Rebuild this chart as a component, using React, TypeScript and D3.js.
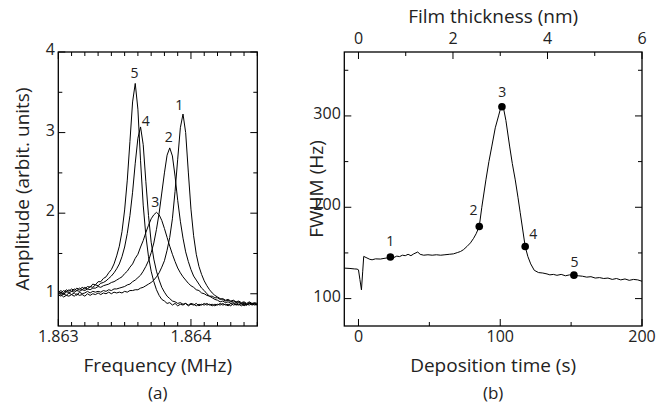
import React from 'react';
import * as d3 from 'd3';

// ---------- Panel (a) data ----------
const FREQ_BASE_MHZ = 1.863;
const freqOffsetHz = [
  0, 20, 40, 60, 80, 100, 120, 140, 160, 180,
  200, 220, 240, 260, 280, 300, 320, 340, 360, 380,
  400, 420, 440, 460, 480, 500, 520, 540, 560, 580,
  600, 620, 640, 660, 680, 700, 720, 740, 760, 780,
  800, 820, 840, 860, 880, 900, 920, 940, 960, 980,
  1000, 1020, 1040, 1060, 1080, 1100, 1120, 1140, 1160, 1180,
  1200, 1220, 1240, 1260, 1280, 1300, 1320, 1340, 1360, 1380,
  1400, 1420, 1440, 1460, 1480, 1500,
];
const amp1 = [
  0.97, 0.99, 0.96, 0.98, 0.97, 0.99, 0.97, 1.0, 0.98, 0.99,
  0.97, 1.0, 0.98, 1.0, 0.99, 1.01, 0.99, 1.01, 1.0, 1.02,
  1.0, 1.02, 1.01, 1.02, 1.01, 1.03, 1.02, 1.04, 1.04, 1.05,
  1.05, 1.07, 1.08, 1.1, 1.12, 1.14, 1.17, 1.21, 1.26, 1.33,
  1.41, 1.54, 1.7, 1.93, 2.27, 2.67, 3.06, 3.23, 3.0, 2.51,
  2.05, 1.72, 1.49, 1.34, 1.24, 1.16, 1.1, 1.05, 1.01, 0.98,
  0.96, 0.94, 0.93, 0.91, 0.92, 0.9, 0.91, 0.89, 0.9, 0.88,
  0.89, 0.87, 0.89, 0.87, 0.88, 0.87,
];
const amp2 = [
  0.99, 0.97, 1.0, 0.98, 1.01, 0.99, 1.01, 0.98, 1.02, 1.0,
  1.01, 1.03, 1.01, 1.03, 1.02, 1.03, 1.02, 1.04, 1.03, 1.05,
  1.04, 1.06, 1.06, 1.07, 1.08, 1.09, 1.11, 1.12, 1.15, 1.17,
  1.2, 1.23, 1.28, 1.34, 1.41, 1.51, 1.63, 1.8, 2.0, 2.25,
  2.5, 2.72, 2.81, 2.71, 2.46, 2.16, 1.9, 1.69, 1.52, 1.4,
  1.3, 1.22, 1.17, 1.12, 1.07, 1.04, 1.0, 0.97, 0.95, 0.93,
  0.92, 0.9, 0.91, 0.89, 0.9, 0.88, 0.89, 0.87, 0.89, 0.87,
  0.88, 0.86, 0.88, 0.87, 0.88, 0.86,
];
const amp3 = [
  1.0, 1.02, 0.99, 1.03, 1.01, 1.03, 1.02, 1.04, 1.03, 1.05,
  1.04, 1.06, 1.05, 1.07, 1.07, 1.09, 1.08, 1.1, 1.11, 1.12,
  1.14, 1.15, 1.17, 1.19, 1.21, 1.25, 1.28, 1.33, 1.37, 1.44,
  1.49, 1.58, 1.66, 1.76, 1.85, 1.93, 1.98, 2.01, 1.98, 1.91,
  1.81, 1.7, 1.59, 1.49, 1.4, 1.32, 1.26, 1.21, 1.17, 1.13,
  1.1, 1.08, 1.05, 1.04, 1.01, 1.0, 0.98, 0.97, 0.97, 0.95,
  0.95, 0.93, 0.94, 0.92, 0.93, 0.91, 0.92, 0.9, 0.91, 0.89,
  0.9, 0.88, 0.9, 0.88, 0.89, 0.88,
];
const amp4 = [
  1.03, 1.01, 1.04, 1.02, 1.05, 1.03, 1.06, 1.04, 1.07, 1.05,
  1.08, 1.06, 1.09, 1.08, 1.11, 1.1, 1.13, 1.14, 1.16, 1.19,
  1.22, 1.26, 1.31, 1.37, 1.46, 1.58, 1.75, 1.97, 2.26, 2.62,
  2.93, 3.07, 2.85, 2.39, 1.97, 1.64, 1.43, 1.28, 1.17, 1.08,
  1.02, 0.97, 0.94, 0.91, 0.9, 0.88, 0.89, 0.87, 0.88, 0.86,
  0.88, 0.87, 0.85, 0.87, 0.86, 0.88, 0.86, 0.87, 0.85, 0.87,
  0.86, 0.88, 0.86, 0.87, 0.85, 0.88, 0.86, 0.87, 0.86, 0.88,
  0.85, 0.87, 0.86, 0.88, 0.86, 0.87,
];
const amp5 = [
  1.02, 1.04, 1.01, 1.05, 1.03, 1.06, 1.04, 1.07, 1.05, 1.08,
  1.06, 1.09, 1.08, 1.12, 1.11, 1.15, 1.15, 1.19, 1.21, 1.26,
  1.3, 1.37, 1.47, 1.59, 1.77, 2.04, 2.41, 2.89, 3.38, 3.61,
  3.29, 2.65, 2.1, 1.72, 1.46, 1.28, 1.15, 1.05, 0.98, 0.93,
  0.91, 0.88, 0.89, 0.86, 0.88, 0.85, 0.87, 0.86, 0.88, 0.85,
  0.87, 0.86, 0.88, 0.85, 0.87, 0.86, 0.88, 0.86, 0.87, 0.85,
  0.87, 0.86, 0.88, 0.86, 0.87, 0.85, 0.88, 0.86, 0.87, 0.85,
  0.87, 0.86, 0.88, 0.86, 0.87, 0.86,
];
const curveLabels = ['1', '2', '3', '4', '5'];
const ampTicks = [1, 2, 3, 4];
const ampTickLabels = ['1', '2', '3', '4'];
const freqTicks = [1.863, 1.864];
const freqTickLabels = ['1.863', '1.864'];

// ---------- Panel (b) data ----------
const timeS = [
  -10, -6, -3, -1, 0, 1, 2.1, 3, 3.7, 6,
  8, 9.6, 12, 15.5, 18, 20, 22.5, 25, 27, 29,
  31, 33, 35, 37, 39, 41.8, 43.5, 46, 49, 52,
  55, 58, 61, 64, 67, 70, 72, 74, 76.5, 79,
  81.2, 83, 85.2, 87, 89.9, 92, 94.1, 96.5, 98.8, 100,
  101.2, 102.5, 104, 106.6, 108.5, 110.6, 112.5, 114.1, 116, 117.6,
  119.5, 121.5, 124, 127, 130, 133, 135, 137.5, 140, 143,
  146, 149, 152, 155, 158, 161, 164, 167, 170, 173,
  176, 179, 182, 185, 188, 191, 194, 197, 200,
];
const fwhmHz = [
  133.4, 133, 132.5, 132.3, 131.5, 121, 109.6, 130, 146.2, 144.5,
  143, 142.5, 143.5, 143.3, 144, 144.5, 145.5, 145, 146.5, 146,
  147.5, 147, 148.5, 147, 149, 151, 148.5, 147.5, 148, 147.5,
  148, 147.5, 148, 148.5, 149, 150.5, 151.6, 153.5, 157, 161,
  166, 171, 179, 200, 230, 250, 267, 287, 300, 307,
  310, 307, 295, 267, 248, 230, 211, 194, 174, 157,
  146, 138, 131, 128.5, 128, 127, 126, 126.5, 125.5, 126.5,
  125, 126, 125.7, 125, 124.5, 123.5, 124, 122.5, 123, 122,
  122.5, 121, 122, 120.5, 121.5, 120, 121, 120.5, 119,
];
const markerTimes = [22.5, 85.2, 101.2, 117.6, 152];
const markerFwhm = [145.5, 179, 310, 157, 125.7];
const markerLabels = ['1', '2', '3', '4', '5'];
const timeTicks = [0, 100, 200];
const timeTickLabels = ['0', '100', '200'];
const fwhmTicks = [100, 200, 300];
const fwhmTickLabels = ['100', '200', '300'];
const thickTicks = [0, 2, 4, 6];
const thickTickLabels = ['0', '2', '4', '6'];

const FONT = "'Open Sans', 'Noto Sans', 'DejaVu Sans', sans-serif";
const MAJ = 7;
const MIN = 4;

type Tick = { v: number; major: boolean };

function Frame({ l, r, t, b }: { l: number; r: number; t: number; b: number }) {
  return <rect x={l} y={t} width={r - l} height={b - t} fill="none" stroke="#000" strokeWidth={1.3} />;
}

export default function App() {
  // panel (a)
  const A = { l: 58.3, r: 257.3, t: 52, b: 326 };
  const xA = d3.scaleLinear().domain([1.863, 1.8645]).range([A.l, A.r]);
  const yA = d3.scaleLinear().domain([0.6, 4]).range([A.b, A.t]);
  const curves = [amp1, amp2, amp3, amp4, amp5];
  const freqs = freqOffsetHz.map((h) => FREQ_BASE_MHZ + h / 1e6);
  const lineA = d3
    .line<number>()
    .x((_, i) => xA(freqs[i]))
    .y((d) => yA(d));
  // label offsets in px relative to each curve's peak (styling)
  const labelOffA = [
    [-3.7, -4],
    [-1, -6],
    [-1.3, -5.7],
    [5.2, -1.3],
    [-0.7, -5.3],
  ];
  const freqMinor: Tick[] = d3.range(0, 16).map((i) => ({ v: 1.863 + i * 0.0001, major: i % 10 === 0 }));
  const ampMinor: Tick[] = d3.range(1, 8).map((i) => ({ v: 0.5 * i + 0.5, major: i % 2 === 1 }));

  // panel (b)
  const B = { l: 344.3, r: 642, t: 52, b: 326 };
  const xB = d3.scaleLinear().domain([-10, 200]).range([B.l, B.r]);
  const xTop = d3.scaleLinear().domain([-0.3, 6]).range([B.l, B.r]);
  const yB = d3.scaleLinear().domain([70, 370]).range([B.b, B.t]);
  const lineB = d3
    .line<number>()
    .x((_, i) => xB(timeS[i]))
    .y((d) => yB(d));
  const labelOffB = [
    [0, -11],
    [-5.7, -11.7],
    [0.3, -10],
    [8, -7.7],
    [0.5, -8.6],
  ];
  const timeMinor: Tick[] = [0, 50, 100, 150, 200].map((v, i) => ({ v, major: i % 2 === 0 }));
  const thickMinor: Tick[] = [0, 1, 2, 3, 4, 5, 6].map((v, i) => ({ v, major: i % 2 === 0 }));
  const fwhmMinor: Tick[] = [100, 150, 200, 250, 300, 350].map((v, i) => ({ v, major: i % 2 === 0 }));

  const hTicks = (ticks: Tick[], sx: (v: number) => number, y: number, dir: number, key: string) =>
    ticks.map((tk, i) => (
      <line
        key={key + i}
        x1={sx(tk.v)}
        x2={sx(tk.v)}
        y1={y}
        y2={y + dir * (tk.major ? MAJ : MIN)}
        stroke="#000"
        strokeWidth={1}
      />
    ));
  const vTicks = (ticks: Tick[], sy: (v: number) => number, x: number, dir: number, key: string) =>
    ticks.map((tk, i) => (
      <line
        key={key + i}
        y1={sy(tk.v)}
        y2={sy(tk.v)}
        x1={x}
        x2={x + dir * (tk.major ? MAJ : MIN)}
        stroke="#000"
        strokeWidth={1}
      />
    ));

  return (
    <svg
      width={658}
      height={407}
      viewBox="0 0 658 407"
      style={{ position: 'absolute', left: 0, top: 0, background: '#fff' }}
      fontFamily={FONT}
    >
      <rect x={0} y={0} width={658} height={407} fill="#fff" />

      {/* ---------- Panel (a) ---------- */}
      <defs>
        <clipPath id="clipA">
          <rect x={A.l} y={A.t} width={A.r - A.l} height={A.b - A.t} />
        </clipPath>
      </defs>
      <g clipPath="url(#clipA)">
        {curves.map((c, k) => (
          <path key={'c' + k} d={lineA(c) || ''} fill="none" stroke="#000" strokeWidth={1} strokeLinejoin="round" />
        ))}
      </g>
      {curves.map((c, k) => {
        const pi = d3.maxIndex(c);
        return (
          <text
            key={'cl' + k}
            x={xA(freqs[pi]) + labelOffA[k][0]}
            y={yA(c[pi]) + labelOffA[k][1]}
            fontSize={14}
            textAnchor="middle"
            fill="#222"
          >
            {curveLabels[k]}
          </text>
        );
      })}
      <Frame {...A} />
      {hTicks(freqMinor, xA, A.b, -1, 'fb')}
      {hTicks(freqMinor, xA, A.t, 1, 'ft')}
      {vTicks(ampMinor, yA, A.l, 1, 'al')}
      {vTicks(ampMinor, yA, A.r, -1, 'ar')}
      {freqTicks.map((v, i) => (
        <text key={'fl' + i} x={xA(v)} y={341.5} fontSize={16} textAnchor="middle" fill="#222">
          {freqTickLabels[i]}
        </text>
      ))}
      {ampTicks.map((v, i) => (
        <text key={'al' + i} x={A.l - 3.5} y={yA(v) + 3} fontSize={16} textAnchor="end" fill="#222">
          {ampTickLabels[i]}
        </text>
      ))}
      <text x={(A.l + A.r) / 2} y={372} fontSize={19} textAnchor="middle" fill="#222">
        Frequency (MHz)
      </text>
      <text x={(A.l + A.r) / 2} y={399} fontSize={17} textAnchor="middle" fill="#222">
        (a)
      </text>
      <text
        transform={`translate(29, ${(A.t + A.b) / 2}) rotate(-90)`}
        fontSize={19}
        textAnchor="middle"
        fill="#222"
      >
        Amplitude (arbit. units)
      </text>

      {/* ---------- Panel (b) ---------- */}
      <path d={lineB(fwhmHz) || ''} fill="none" stroke="#000" strokeWidth={1} strokeLinejoin="round" />
      {markerTimes.map((t, i) => (
        <g key={'m' + i}>
          <circle cx={xB(t)} cy={yB(markerFwhm[i])} r={3.8} fill="#000" />
          <text
            x={xB(t) + labelOffB[i][0]}
            y={yB(markerFwhm[i]) + labelOffB[i][1]}
            fontSize={14}
            textAnchor="middle"
            fill="#222"
          >
            {markerLabels[i]}
          </text>
        </g>
      ))}
      <Frame {...B} />
      {hTicks(timeMinor, xB, B.b, -1, 'tb')}
      {hTicks(thickMinor, xTop, B.t, 1, 'tt')}
      {vTicks(fwhmMinor, yB, B.l, 1, 'wl')}
      {vTicks(fwhmMinor, yB, B.r, -1, 'wr')}
      {timeTicks.map((v, i) => (
        <text key={'tl' + i} x={xB(v)} y={341.5} fontSize={16} textAnchor="middle" fill="#222">
          {timeTickLabels[i]}
        </text>
      ))}
      {thickTicks.map((v, i) => (
        <text key={'kl' + i} x={xTop(v)} y={44} fontSize={16} textAnchor="middle" fill="#222">
          {thickTickLabels[i]}
        </text>
      ))}
      {fwhmTicks.map((v, i) => (
        <text key={'wl' + i} x={B.l - 3.5} y={yB(v) + 3} fontSize={16} textAnchor="end" fill="#222">
          {fwhmTickLabels[i]}
        </text>
      ))}
      <text x={(B.l + B.r) / 2} y={372} fontSize={19} textAnchor="middle" fill="#222">
        Deposition time (s)
      </text>
      <text x={(B.l + B.r) / 2} y={399} fontSize={17} textAnchor="middle" fill="#222">
        (b)
      </text>
      <text x={(B.l + B.r) / 2} y={22.5} fontSize={19} textAnchor="middle" fill="#222">
        Film thickness (nm)
      </text>
      <text
        transform={`translate(323, ${(B.t + B.b) / 2}) rotate(-90)`}
        fontSize={19}
        textAnchor="middle"
        fill="#222"
      >
        FWHM (Hz)
      </text>
    </svg>
  );
}
